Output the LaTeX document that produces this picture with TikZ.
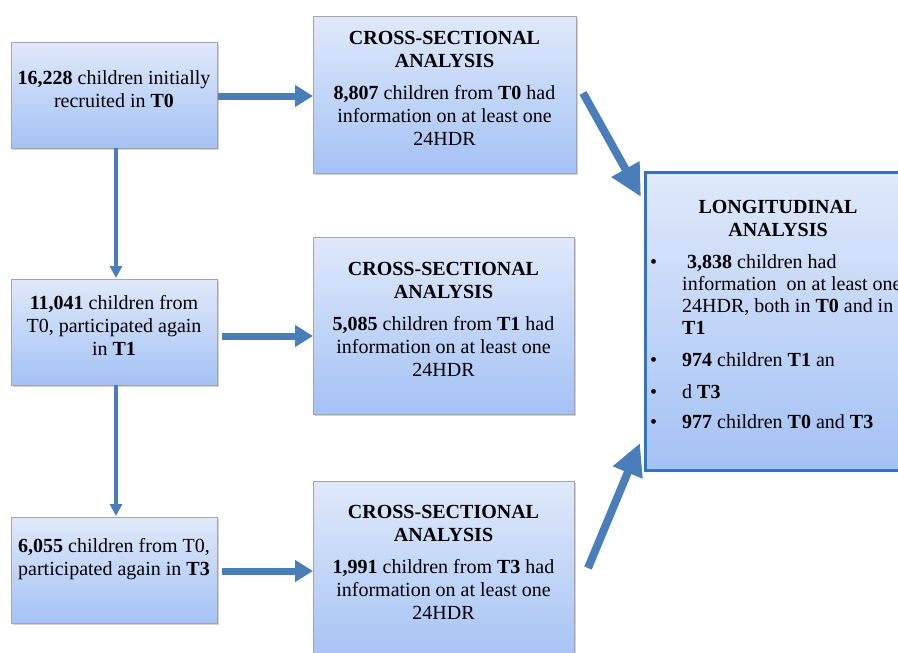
\documentclass[tikz,border=0pt]{standalone}
\usepackage{fontspec}
\setmainfont{Liberation Serif}
\usetikzlibrary{shadows,arrows.meta,calc}
\definecolor{arrowblue}{RGB}{74,126,187}
\definecolor{boxtop}{RGB}{224,233,250}
\definecolor{boxbot}{RGB}{164,194,245}
\definecolor{boxline}{RGB}{165,165,165}
\definecolor{longline}{RGB}{46,117,196}
\begin{document}
\begin{tikzpicture}[x=1pt,y=-1pt,font=\fontsize{20}{23}\selectfont,
  box/.style={draw=boxline, line width=0.8pt, top color=boxtop, bottom color=boxbot,
    drop shadow={opacity=0.35, shadow xshift=2pt, shadow yshift=-2pt},
    inner sep=0pt, outer sep=0pt},
  longbox/.style={draw=longline, line width=3pt, top color=boxtop, bottom color=boxbot,
    drop shadow={opacity=0.35, shadow xshift=2pt, shadow yshift=-2pt},
    inner sep=0pt, outer sep=0pt},
  txt/.style={align=center, inner sep=0pt},
  ltxt/.style={anchor=base west, inner sep=0pt},
  harrow/.style={draw=arrowblue, line width=7pt, -{Triangle[length=18pt,width=21pt]}},
  varrow/.style={draw=arrowblue, line width=4pt, -{Triangle[length=12pt,width=12pt]}},
  darrow/.style={draw=arrowblue, line width=8pt, -{Triangle[length=32pt,width=30pt]}}]
\useasboundingbox (0,0) rectangle (898,653);
\clip (0,0) rectangle (898,653);
\fill[white] (0,0) rectangle (898,653);

% left column
\node[box, minimum width=206pt, minimum height=106pt] (A) at (114,95) {};
\node[txt] (At) at (114,89.5) {\textbf{16,228} children initially\\recruited in \textbf{T0}};
\node[box, minimum width=206pt, minimum height=106pt] (C) at (114,332) {};
\node[txt] (Ct) at (114,325) {\textbf{11,041} children from\\T0, participated again\\in \textbf{T1}};
\node[box, minimum width=206pt, minimum height=106pt] (E) at (114,570) {};
\node[txt] (Et) at (114,559.5) {\textbf{6,055} children from T0,\\participated again in \textbf{T3}};

% middle column
\node[box, minimum width=263pt, minimum height=157pt] (B) at (444.5,94.5) {};
\node[txt] (Bt) at (444.5,88.5) {\textbf{CROSS-SECTIONAL}\\\textbf{ANALYSIS}\\[9pt]\textbf{8,807} children from \textbf{T0} had\\information on at least one\\24HDR};
\node[box, minimum width=261pt, minimum height=177pt] (D) at (443.5,325.5) {};
\node[txt] (Dt) at (443.5,319) {\textbf{CROSS-SECTIONAL}\\\textbf{ANALYSIS}\\[9pt]\textbf{5,085} children from \textbf{T1} had\\information on at least one\\24HDR};
\node[box, minimum width=261pt, minimum height=184pt] (F) at (443.5,573) {};
\node[txt] (Ft) at (443.5,562.5) {\textbf{CROSS-SECTIONAL}\\\textbf{ANALYSIS}\\[9pt]\textbf{1,991} children from \textbf{T3} had\\information on at least one\\24HDR};

% longitudinal box
\node[longbox, minimum width=315pt, minimum height=298pt] (G) at (802.5,321) {};
\node[txt, anchor=base] (G1) at (778,213.5) {\textbf{LONGITUDINAL}};
\node[txt, anchor=base] (G2) at (778,236) {\textbf{ANALYSIS}};
\node[ltxt] (b1) at (650,268) {\textbullet};
\node[ltxt] (g3) at (687,268) {\textbf{3,838} children had};
\node[ltxt] (g4) at (682,290.5) {information\ \ on at least one};
\node[ltxt] (g5) at (682,312.5) {24HDR, both in \textbf{T0} and in};
\node[ltxt] (g6) at (682,334.5) {\textbf{T1}};
\node[ltxt] (b2) at (650,366) {\textbullet};
\node[ltxt] (g7) at (682,366) {\textbf{974} children \textbf{T1} an};
\node[ltxt] (b3) at (650,398) {\textbullet};
\node[ltxt] (g8) at (682,398) {d \textbf{T3}};
\node[ltxt] (b4) at (650,428.5) {\textbullet};
\node[ltxt] (g9) at (682,428.5) {\textbf{977} children \textbf{T0} and \textbf{T3}};

% arrows
\draw[harrow] ($(A.east)+(1,1)$) -- ($(A.east -| B.west)+(0,1)$);
\draw[harrow] ($(C.east)+(5,4)$) -- ($(C.east -| D.west)+(0,4)$);
\draw[harrow] ($(E.east)+(5,1)$) -- ($(E.east -| F.west)+(0,1)$);
\draw[varrow] ($(A.south)+(2,0)$) -- ($(C.north)+(2,-1)$);
\draw[varrow] ($(C.south)+(2,0)$) -- ($(E.north)+(2,-1)$);
\coordinate (bt) at (583,93);
\coordinate (gt) at (641,197);
\coordinate (ft) at (588,568);
\coordinate (gb) at (640,443);
\draw[darrow] (bt) -- (gt);
\draw[darrow] (ft) -- (gb);
\end{tikzpicture}
\end{document}
